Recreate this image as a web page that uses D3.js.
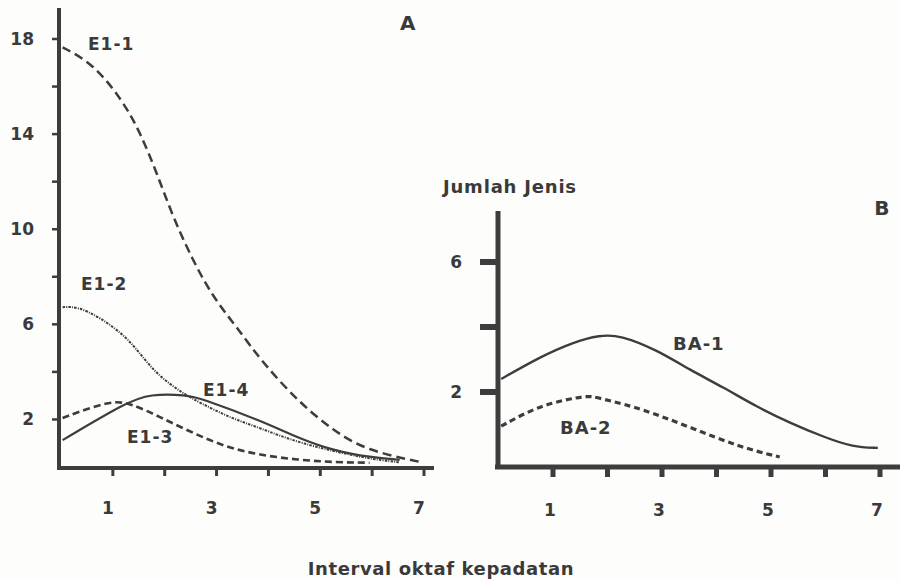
<!DOCTYPE html>
<html>
<head>
<meta charset="utf-8">
<script src="https://cdn.jsdelivr.net/npm/d3@7"></script>
<style>
  body { margin: 0; background: #fdfdfb; }
  svg text { font-family: "DejaVu Sans", sans-serif; font-weight: bold; fill: #3a3a3a; }
</style>
</head>
<body>
<svg id="chart" width="900" height="581"></svg>
<script>
// panel A series [oktaf, jumlah jenis]
var e11 = [[0.05,17.65],[0.64,16.97],[1.21,15.4],[1.54,14.1],[1.87,12.35],[2.18,10.5],[2.56,8.7],[2.95,7.14],[3.41,5.88],[3.9,4.4],[4.62,2.7],[5.26,1.55],[5.9,0.7],[6.97,0.2]];
var e12 = [[0.05,6.72],[0.33,6.75],[0.77,6.3],[1.29,5.46],[1.6,4.6],[1.93,3.78],[2.37,3.1],[2.7,2.7],[3.3,2.05],[3.85,1.65],[4.6,1.0],[5.9,0.35],[6.55,0.2]];
var e13 = [[0.05,2.06],[0.96,2.8],[1.35,2.69],[1.93,2.1],[2.56,1.43],[3.2,0.84],[3.85,0.5],[4.6,0.3],[5.26,0.2],[5.97,0.18]];
var e14 = [[0.05,1.13],[1.29,2.73],[1.73,3.07],[2.45,3.03],[2.7,2.9],[3.85,1.97],[4.62,1.2],[5.26,0.7],[6.0,0.4],[6.55,0.3]];
// panel B series
var ba1 = [[0.05,2.4],[0.76,3.08],[1.38,3.54],[1.86,3.75],[2.23,3.75],[2.9,3.3],[3.51,2.68],[4.12,2.15],[4.74,1.54],[5.35,1.05],[5.96,0.62],[6.51,0.3],[6.96,0.28]];
var ba2 = [[0.05,0.95],[0.76,1.6],[1.5,1.85],[1.7,1.88],[1.99,1.75],[2.6,1.5],[3.51,0.92],[4.43,0.3],[5.16,0.0]];

var xTicks = [1,2,3,4,5,6,7], xLabels = [1,3,5,7];
var yTicksA = [2,4,6,8,10,12,14,16,18], yLabelsA = [2,6,10,14,18];
var yTicksB = [2,4,6], yLabelsB = [2,6];
var xTitle = "Interval oktaf kepadatan", yTitle = "Jumlah Jenis";

var svg = d3.select("#chart"), ink = "#3d3d3d";

var xA = d3.scaleLinear().domain([0, 7]).range([60, 423]);
var yA = d3.scaleLinear().domain([0, 18]).range([467, 39]);
var xB = d3.scaleLinear().domain([0, 7]).range([498.5, 880]);
var yB = d3.scaleLinear().domain([0, 6]).range([457, 262]);

function curve(x, y, d, width, dash) {
  var line = d3.line()
      .x(function(p) { return x(p[0]); })
      .y(function(p) { return y(p[1]); })
      .curve(d3.curveBasis);
  svg.append("path")
      .datum(d)
      .attr("d", line)
      .style("fill", "none")
      .style("stroke", ink)
      .style("stroke-width", width)
      .style("stroke-dasharray", dash);
}

function label(x, y, t, size, anchor, ls) {
  svg.append("text").attr("x", x).attr("y", y)
      .attr("text-anchor", anchor || "start")
      .style("font-size", size + "px")
      .style("letter-spacing", (ls || 0.5) + "px")
      .text(t);
}

// panel A axes
svg.append("line").attr("x1", 59).attr("x2", 59).attr("y1", 8).attr("y2", 469)
    .style("stroke", ink).style("stroke-width", 4);
svg.append("line").attr("x1", 57).attr("x2", 434).attr("y1", 468).attr("y2", 468)
    .style("stroke", ink).style("stroke-width", 4);

svg.selectAll(".tyA").data(yTicksA).enter().append("line")
    .attr("x1", 52).attr("x2", 59)
    .attr("y1", function(d) { return yA(d); }).attr("y2", function(d) { return yA(d); })
    .style("stroke", ink).style("stroke-width", 2.5);
svg.selectAll(".txA").data(xTicks).enter().append("line")
    .attr("x1", function(d) { return xA(d) + 1; }).attr("x2", function(d) { return xA(d) + 1; })
    .attr("y1", 468).attr("y2", 476)
    .style("stroke", ink).style("stroke-width", 3);

svg.selectAll(".lyA").data(yLabelsA).enter().append("text")
    .attr("x", 34).attr("y", function(d) { return yA(d) + 6; })
    .attr("text-anchor", "end")
    .style("font-size", "17px")
    .text(function(d) { return d; });
svg.selectAll(".lxA").data(xLabels).enter().append("text")
    .attr("x", function(d) { return xA(d) - 4; }).attr("y", 514)
    .attr("text-anchor", "middle")
    .style("font-size", "17px")
    .text(function(d) { return d; });

curve(xA, yA, e11, 2.5, "9,5");
curve(xA, yA, e12, 2, "2.5,1.2,1,1.2");
curve(xA, yA, e13, 2.6, "7,4");
curve(xA, yA, e14, 2.2, null);

label(408, 30, "A", 20, "middle");
label(88, 50, "E1-1", 17, "start", 1);
label(81, 290, "E1-2", 17, "start", 1);
label(203, 396, "E1-4", 17, "start", 1);
label(127, 443, "E1-3", 17, "start", 1);

// panel B axes
svg.append("line").attr("x1", 498).attr("x2", 498).attr("y1", 211).attr("y2", 469)
    .style("stroke", ink).style("stroke-width", 5);
svg.append("line").attr("x1", 495).attr("x2", 900).attr("y1", 467).attr("y2", 467)
    .style("stroke", ink).style("stroke-width", 5);

svg.selectAll(".tyB").data(yTicksB).enter().append("line")
    .attr("x1", 480).attr("x2", 498)
    .attr("y1", function(d) { return yB(d); }).attr("y2", function(d) { return yB(d); })
    .style("stroke", ink).style("stroke-width", 6);
svg.selectAll(".txB").data(xTicks).enter().append("line")
    .attr("x1", function(d) { return xB(d); }).attr("x2", function(d) { return xB(d); })
    .attr("y1", 467).attr("y2", 477)
    .style("stroke", ink).style("stroke-width", 5);

svg.selectAll(".lyB").data(yLabelsB).enter().append("text")
    .attr("x", 462).attr("y", function(d) { return yB(d) + 6; })
    .attr("text-anchor", "end")
    .style("font-size", "17px")
    .text(function(d) { return d; });
svg.selectAll(".lxB").data(xLabels).enter().append("text")
    .attr("x", function(d) { return xB(d) - 3; }).attr("y", 516)
    .attr("text-anchor", "middle")
    .style("font-size", "17px")
    .text(function(d) { return d; });

curve(xB, yB, ba1, 2.4, null);
curve(xB, yB, ba2, 3.2, "6,4");

label(882, 215, "B", 20, "middle");
label(673, 350, "BA-1", 18, "start", 1);
label(560, 434, "BA-2", 18, "start", 1);
label(443, 193, yTitle, 18, "start", 0.8);

label(441, 575, xTitle, 18, "middle", 0.6);
</script>
</body>
</html>
